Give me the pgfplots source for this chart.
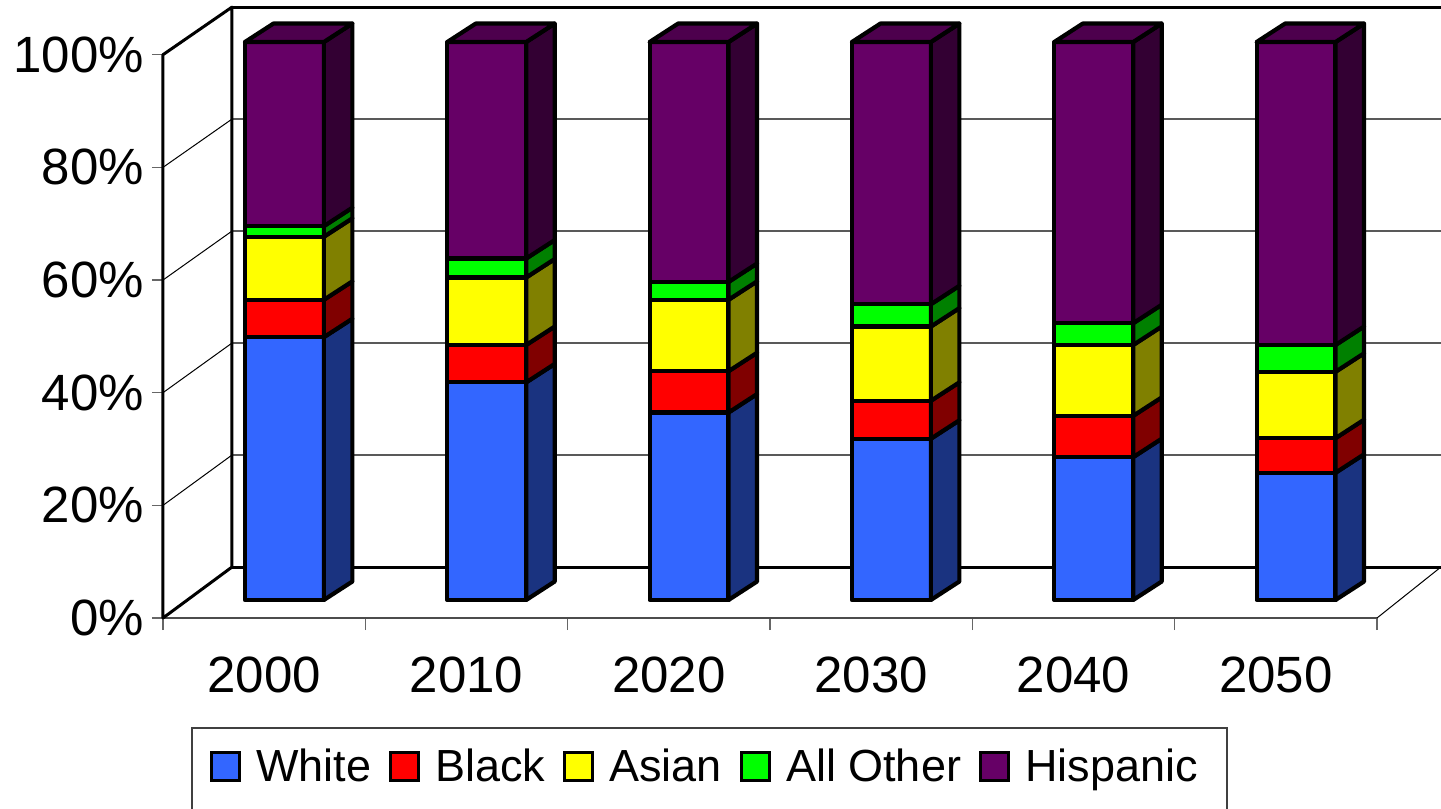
\documentclass[border=0pt]{standalone}
\usepackage{pgfplots}
\usepackage{pgfplotstable}
\pgfplotsset{compat=1.18}
\usepackage{fontspec}
\setmainfont{Liberation Sans}

% face colours: front, side (shaded) and top
\definecolor{whiteF}{HTML}{3366FF}\definecolor{whiteS}{HTML}{1A3380}
\definecolor{blackF}{HTML}{FF0000}\definecolor{blackS}{HTML}{800000}
\definecolor{asianF}{HTML}{FFFF00}\definecolor{asianS}{HTML}{808000}
\definecolor{otherF}{HTML}{00FF00}\definecolor{otherS}{HTML}{008000}
\definecolor{hispF}{HTML}{660066}\definecolor{hispS}{HTML}{330033}\definecolor{hispT}{HTML}{4D004D}

% population shares (%) by year
\pgfplotstableread{
year W B A O H
2000 47.1 6.7 11.3 1.9 33.0
2010 39.0 6.7 12.1 3.4 38.8
2020 33.6 7.4 12.8 3.2 43.0
2030 28.9 6.8 13.3 4.0 47.0
2040 25.6 7.4 12.7 3.9 50.4
2050 22.8 6.2 11.9 4.8 54.3
}\shares

% oblique projection, in axis units
\def\barhw{0.195}     % half width of a bar
\def\barx{0.60}       % bar centre within its category slot
\def\bary{3.2}        % height of the bar floor
\def\barscale{0.9905} % vertical scale at the bar plane
\def\ddx{0.141}\def\ddy{3.28}  % bar depth
\def\wdx{0.341}\def\wdy{9.05}  % wall depth
\def\wscale{0.994}             % vertical scale at the back wall
\def\wallend{6.316}

\tikzset{barline/.style={draw=black,line width=2.1pt,line join=round}}

% one stacked segment: front face and right side face
\newcommand\segment[4]{%
  \pgfmathsetmacro\ya{#3}\pgfmathsetmacro\yb{#4}%
  \pgfmathsetmacro\yas{\ya+\ddy}\pgfmathsetmacro\ybs{\yb+\ddy}%
  \edef\tmp{%
    \noexpand\addplot[forget plot,fill=#1,barline] coordinates {(\xl,\ya) (\xr,\ya) (\xr,\yb) (\xl,\yb)} -- cycle;
    \noexpand\addplot[forget plot,fill=#2,barline] coordinates {(\xr,\ya) (\xs,\yas) (\xs,\ybs) (\xr,\yb)} -- cycle;
  }\tmp}

% one whole bar from row #1 of the table
\newcommand\drawbar[1]{%
  \pgfplotstablegetelem{#1}{W}\of\shares\pgfmathsetmacro\cW{\pgfplotsretval}%
  \pgfplotstablegetelem{#1}{B}\of\shares\pgfmathsetmacro\cB{\pgfplotsretval}%
  \pgfplotstablegetelem{#1}{A}\of\shares\pgfmathsetmacro\cA{\pgfplotsretval}%
  \pgfplotstablegetelem{#1}{O}\of\shares\pgfmathsetmacro\cO{\pgfplotsretval}%
  \pgfplotstablegetelem{#1}{H}\of\shares\pgfmathsetmacro\cH{\pgfplotsretval}%
  \pgfmathsetmacro\xl{#1+\barx-\barhw}\pgfmathsetmacro\xr{#1+\barx+\barhw}%
  \pgfmathsetmacro\xs{\xr+\ddx}\pgfmathsetmacro\xt{\xl+\ddx}%
  \pgfmathsetmacro\yW{\bary+\barscale*\cW}%
  \pgfmathsetmacro\yB{\yW+\barscale*\cB}%
  \pgfmathsetmacro\yA{\yB+\barscale*\cA}%
  \pgfmathsetmacro\yO{\yA+\barscale*\cO}%
  \pgfmathsetmacro\yH{\yO+\barscale*\cH}%
  \segment{whiteF}{whiteS}{\bary}{\yW}%
  \segment{blackF}{blackS}{\yW}{\yB}%
  \segment{asianF}{asianS}{\yB}{\yA}%
  \segment{otherF}{otherS}{\yA}{\yO}%
  \segment{hispF}{hispS}{\yO}{\yH}%
  \pgfmathsetmacro\yHs{\yH+\ddy}%
  \edef\tmp{\noexpand\addplot[forget plot,fill=hispT,barline] coordinates {(\xl,\yH) (\xr,\yH) (\xs,\yHs) (\xt,\yHs)} -- cycle;}\tmp}

\begin{document}
\begin{tikzpicture}
\begin{axis}[
  x=101.165pt, y=2.8165pt,
  xmin=0, xmax=6, ymin=0, ymax=100,
  clip=false,
  axis lines*=left,
  axis line style={draw=none},
  xtick={0.5,1.5,2.5,3.5,4.5,5.5},
  xticklabels={2000,2010,2020,2030,2040,2050},
  minor xtick={0,1,2,3,4,5,6},
  ytick={0,20,40,60,80,100},
  yticklabels={0\%,20\%,40\%,60\%,80\%,100\%},
  tick align=outside,
  major tick length=5.5pt, minor tick length=6pt,
  every tick/.style={black!60,line width=0.7pt},
  every major x tick/.append style={draw=none},
  ticklabel style={font=\fontsize{25.5}{30}\selectfont},
  xticklabel style={yshift=-10.5pt},
  yticklabel style={xshift=-0.5pt},
  legend columns=5,
  legend image code/.code={\draw[#1,draw=black,line width=1.5pt] (0pt,-7pt) rectangle (14pt,7pt);},
  legend style={at={(0.0387,-0.2636)}, anchor=west, draw=none, fill=none,
    inner sep=0pt, font=\fontsize{22.5}{27}\selectfont,
    /tikz/every odd column/.append style={column sep=5.5pt},
    /tikz/every even column/.append style={column sep=7pt}},
]
% walls: back-wall grid and left-wall diagonals
\pgfplotsinvokeforeach{20,40,60,80}{
  \draw[black!65,line width=0.7pt] (axis cs:\wdx,{\wdy+\wscale*#1}) -- (axis cs:\wallend,{\wdy+\wscale*#1});
  \draw[black,line width=0.5pt] (axis cs:0,#1) -- (axis cs:\wdx,{\wdy+\wscale*#1});
}
\draw[black!70,line width=1pt] (axis cs:0,0) -- (axis cs:6,0);
\draw[black,line width=0.5pt] (axis cs:6,0) -- (axis cs:\wallend,\wdy);
\draw[black,line width=1.5pt,line join=round]
  (axis cs:\wdx,\wdy) -- (axis cs:0,0) -- (axis cs:0,100)
  -- (axis cs:\wdx,{\wdy+\wscale*100}) -- (axis cs:\wdx,\wdy);
\draw[black,line width=1.5pt] (axis cs:\wdx,{\wdy+\wscale*100}) -- (axis cs:\wallend+0.05,{\wdy+\wscale*100});
\draw[black,line width=1.5pt] (axis cs:\wdx,\wdy) -- (axis cs:\wallend+0.05,\wdy);

% stacked bars
\drawbar{0}\drawbar{1}\drawbar{2}\drawbar{3}\drawbar{4}\drawbar{5}

% legend
\addlegendimage{fill=whiteF}\addlegendentry{White}
\addlegendimage{fill=blackF}\addlegendentry{Black}
\addlegendimage{fill=asianF}\addlegendentry{Asian}
\addlegendimage{fill=otherF}\addlegendentry{All Other}
\addlegendimage{fill=hispF}\addlegendentry{Hispanic}
\draw[black!75,line width=0.75pt] (axis cs:0.1433,-45) -- (axis cs:0.1433,-19.53)
  -- (axis cs:5.259,-19.53) -- (axis cs:5.259,-45);

\coordinate (pageTL) at (axis cs:-0.8056,109.71);
\coordinate (pageBR) at (axis cs:6.3164,-33.73);
\end{axis}
\pgfresetboundingbox
\path[use as bounding box] (pageTL) rectangle (pageBR);
\end{tikzpicture}
\end{document}
